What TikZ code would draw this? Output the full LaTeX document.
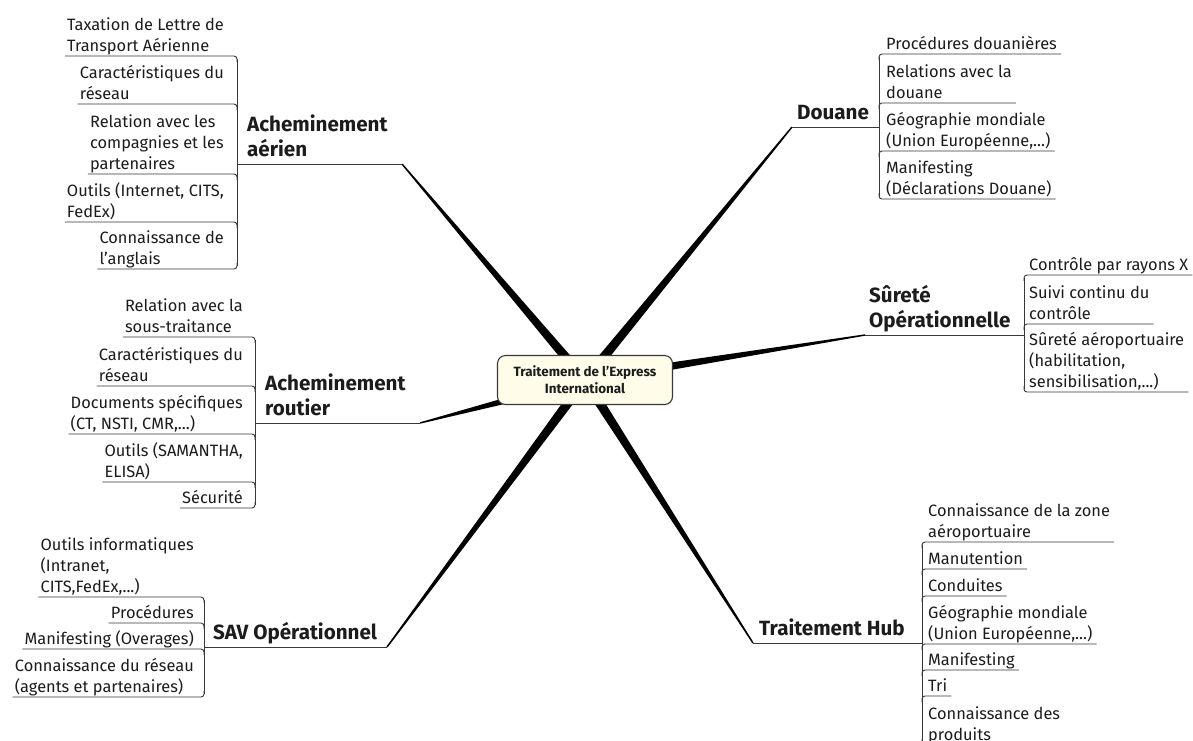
\documentclass[tikz,border=0pt]{standalone}
\usepackage{fontspec}
\setmainfont{Fira Sans}
\usetikzlibrary{calc}
\definecolor{ink}{HTML}{1C1C1C}
\definecolor{inkgray}{HTML}{383838}
\definecolor{notecream}{HTML}{FFFDE9}

\begin{document}
\begin{tikzpicture}[x=1pt, y=-1pt,
    core/.style={
      draw=inkgray, fill=notecream, rounded corners=8pt, line width=1.1pt,
      minimum width=175pt, minimum height=49pt, align=center, text=ink,
      font=\bfseries\fontsize{13.4}{17}\selectfont
    },
    topic/.style={anchor=south west, inner sep=0pt, align=left, text=ink,
      font=\bfseries\fontsize{20.6}{25}\selectfont, execute at end node=\strut},
    leaf/.style={inner sep=0pt, align=left, text=ink,
      font=\fontsize{16.4}{21}\selectfont, execute at end node=\strut},
    twig/.style={draw=inkgray, line width=0.9pt, rounded corners=3pt},
    limb/.style={fill=black}
  ]
  \fill[white] (0,0) rectangle (1193,740);
  \useasboundingbox (0,0) rectangle (1193,740);

  % centre and branch ends
  \coordinate (mid) at (585,380);
  \coordinate (aer-tip) at (402,164);  \coordinate (aer-fork) at (237,164);
  \coordinate (rou-tip) at (420,423);  \coordinate (rou-fork) at (255,423);
  \coordinate (sav-tip) at (387,647);  \coordinate (sav-fork) at (204,647);
  \coordinate (dou-tip) at (792,127);  \coordinate (dou-fork) at (879,127);
  \coordinate (sur-tip) at (865,335);  \coordinate (sur-fork) at (1024,335);
  \coordinate (hub-tip) at (753,643);  \coordinate (hub-fork) at (922,643);

  \foreach \e in {aer,rou,sav,dou,sur,hub} {
    \fill[limb] ($(mid)!5pt!90:(\e-tip)$) -- ($(\e-tip)!0.7pt!-90:(mid)$)
      -- ($(\e-tip)!0.7pt!90:(mid)$) -- ($(mid)!5pt!-90:(\e-tip)$) -- cycle;
    \draw[twig] (\e-fork) -- (\e-tip);
  }

  \node[core] (c) at (mid) {Traitement de l'Express\\International};

  % main topics
  \node[topic] (aer) at (247,164) {Acheminement\\aérien};
  \node[topic] (rou) at (265,423) {Acheminement\\routier};
  \node[topic] (sav) at (213,647) {SAV Opérationnel};
  \node[topic] (dou) at (797,127) {Douane};
  \node[topic] (sur) at (869,335) {Sûreté\\Opérationnelle};
  \node[topic] (hub) at (759,643) {Traitement Hub};

  % Acheminement aerien
  \draw[twig] (237,59) -- (237,266);
  \foreach \t/\y/\d [count=\i] in {
      {Taxation de Lettre de\\Transport Aérienne}/56/1,
      {Caractéristiques du\\réseau}/104/1,
      {Relation avec les\\compagnies et les\\partenaires}/174/1,
      {Outils (Internet, CITS,\\FedEx)}/222/1,
      {Connaissance de\\l'anglais}/269/-1} {
    \node[leaf, anchor=south east] (aer-\i) at (224,\y+2) {\t};
    \draw[twig] ([xshift=-2pt,yshift=2pt]aer-\i.south west) -- (237,\y)
      -- (237,\y+6*\d);
  }

  % Acheminement routier
  \draw[twig] (255,340) -- (255,505);
  \foreach \t/\y/\d [count=\i] in {
      {Relation avec la\\sous-traitance}/337/1,
      {Caractéristiques du\\réseau}/386/1,
      {Documents spécifiques\\(CT, NSTI, CMR,...)}/434/1,
      {Outils (SAMANTHA,\\ELISA)}/482/1,
      {Sécurité}/508/-1} {
    \node[leaf, anchor=south east] (rou-\i) at (243,\y+2) {\t};
    \draw[twig] ([xshift=-2pt,yshift=2pt]rou-\i.south west) -- (255,\y)
      -- (255,\y+6*\d);
  }

  % SAV
  \draw[twig] (204,600) -- (204,694);
  \foreach \t/\y/\d [count=\i] in {
      {Outils informatiques\\(Intranet,\\CITS,FedEx,...)}/597/1,
      {Procédures}/623/1,
      {Manifesting (Overages)}/649/1,
      {Connaissance du réseau\\(agents et partenaires)}/697/-1} {
    \node[leaf, anchor=south east] (sav-\i) at (194,\y+2) {\t};
    \draw[twig] ([xshift=-2pt,yshift=2pt]sav-\i.south west) -- (204,\y)
      -- (204,\y+6*\d);
  }

  % Douane
  \draw[twig] (879,57) -- (879,196);
  \foreach \t/\y/\d [count=\i] in {
      {Procédures douanières}/54/1,
      {Relations avec la\\douane}/103/1,
      {Géographie mondiale\\(Union Européenne,...)}/151/1,
      {Manifesting\\(Déclarations Douane)}/199/-1} {
    \node[leaf, anchor=south west] (dou-\i) at (886,\y+2) {\t};
    \draw[twig] ([xshift=4pt,yshift=2pt]dou-\i.south east) -- (879,\y)
      -- (879,\y+6*\d);
  }

  % Surete
  \draw[twig] (1024,278) -- (1024,389);
  \foreach \t/\y/\d [count=\i] in {
      {Contrôle par rayons X}/275/1,
      {Suivi continu du\\contrôle}/324/1,
      {Sûreté aéroportuaire\\(habilitation,\\sensibilisation,...)}/392/-1} {
    \node[leaf, anchor=south west] (sur-\i) at (1029,\y+2) {\t};
    \draw[twig] ([xshift=4pt,yshift=2pt]sur-\i.south east) -- (1024,\y)
      -- (1024,\y+6*\d);
  }

  % Traitement Hub
  \draw[twig] (922,545) -- (922,742);
  \foreach \t/\y/\d [count=\i] in {
      {Connaissance de la zone\\aéroportuaire}/542/1,
      {Manutention}/569/1,
      {Conduites}/596/1,
      {Géographie mondiale\\(Union Européenne,...)}/644/1,
      {Manifesting}/670/1,
      {Tri}/696/1,
      {Connaissance des\\produits}/745/-1} {
    \node[leaf, anchor=south west] (hub-\i) at (928,\y+2) {\t};
    \draw[twig] ([xshift=4pt,yshift=2pt]hub-\i.south east) -- (922,\y)
      -- (922,\y+6*\d);
  }
\end{tikzpicture}
\end{document}
